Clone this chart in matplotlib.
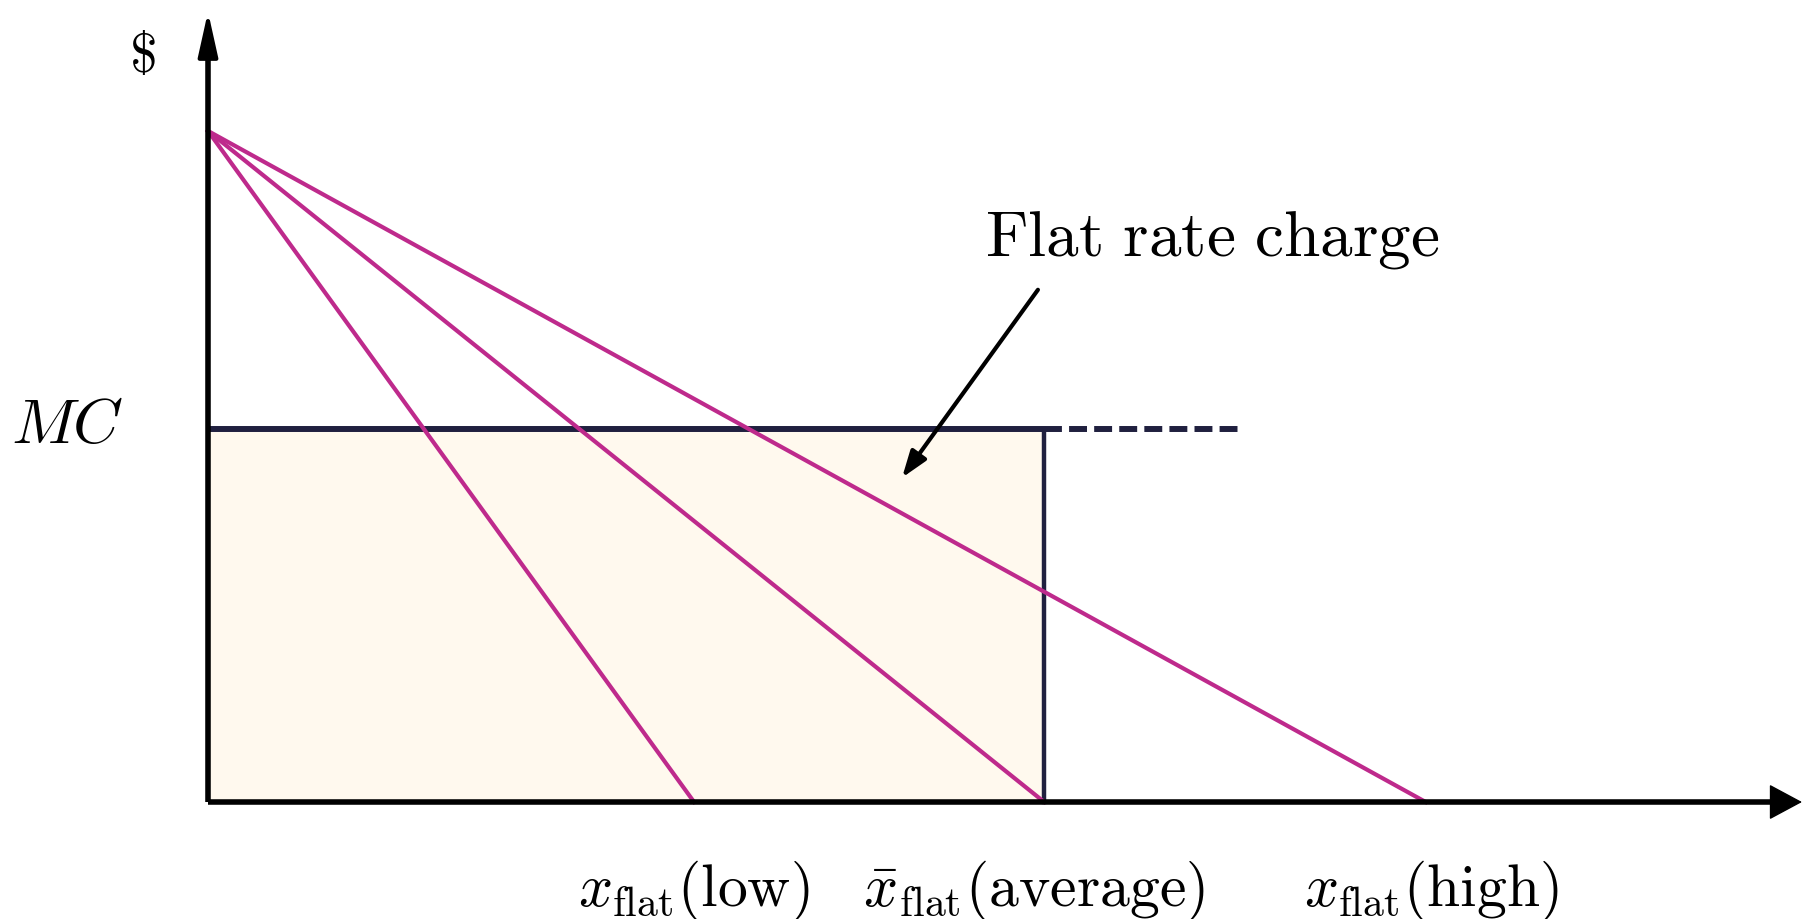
import numpy as np
import matplotlib.pyplot as plt

plt.rcParams['mathtext.fontset'] = 'cm'

# economic units: quantity on x, price on y
choke_price = 9.0
mc = 5.0
intercepts = [4.65, 8.0, 11.65]          # demand quantity intercepts (low, average, high)
label_x = [4.65, 7.9, 11.7]              # where the quantity labels sit
labels = [r'$x_{\mathrm{flat}}(\mathrm{low})$',
          r'$\bar{x}_{\mathrm{flat}}(\mathrm{average})$',
          r'$x_{\mathrm{flat}}(\mathrm{high})$']
avg_q = 8.0
mc_dash_end = 9.85
x_max, y_max = 15.25, 10.6

demand_col = '#BE2A8C'
mc_col = '#20203F'
fill_col = '#FFF9EE'

fig = plt.figure(figsize=(18.02, 9.2), dpi=100)
ax = fig.add_axes([0, 0, 1, 1])
ax.set_xlim(-1.99, 15.25)
ax.set_ylim(-1.569, 10.77)
ax.axis('off')

# flat-rate rectangle
ax.fill_between([0, avg_q], 0, mc, color=fill_col, lw=0, zorder=1)
ax.plot([0, avg_q], [mc, mc], color=mc_col, lw=4.3, zorder=3, solid_capstyle='butt')
ax.plot([avg_q, avg_q], [0, mc], color=mc_col, lw=3.2, zorder=3)
ax.plot([avg_q, mc_dash_end], [mc, mc], color=mc_col, lw=4.3, ls=(0, (3.0, 1.2)), zorder=3)

# demand curves
for q in intercepts:
    ax.plot([0, q], [choke_price, 0], color=demand_col, lw=3, zorder=4)

# axes
ax.plot([0, 0], [0, y_max - 0.3], color='k', lw=4, zorder=5, solid_capstyle='butt')
ax.plot([0, x_max - 0.2], [0, 0], color='k', lw=4, zorder=5, solid_capstyle='butt')
ax.annotate('', xy=(0, y_max), xytext=(0, y_max - 0.6),
            arrowprops=dict(arrowstyle='-|>,head_length=1.35,head_width=0.3',
                            color='k', lw=3, mutation_scale=20, shrinkA=0, shrinkB=0), zorder=6)
ax.annotate('', xy=(x_max, 0), xytext=(x_max - 0.6, 0),
            arrowprops=dict(arrowstyle='-|>,head_length=1.08,head_width=0.58',
                            color='k', lw=1, mutation_scale=20, shrinkA=0, shrinkB=0), zorder=6)

# text
ax.text(-0.63, 10.0, r'$\$$', fontsize=40, ha='center', va='center')
ax.text(-1.35, 5.07, r'$MC$', fontsize=46, ha='center', va='center')
ax.text(9.61, 7.56, r'$\mathrm{Flat\ rate\ charge}$', fontsize=47, ha='center', va='center')
ax.annotate('', xy=(6.64, 4.35), xytext=(7.94, 6.87),
            arrowprops=dict(arrowstyle='-|>,head_length=0.8,head_width=0.28',
                            color='k', lw=3, mutation_scale=20, shrinkA=0, shrinkB=0), zorder=6)
for lx, lab in zip(label_x, labels):
    ax.text(lx, -1.18, lab, fontsize=43, ha='center', va='center')

fig.savefig('out.png', dpi=100)
